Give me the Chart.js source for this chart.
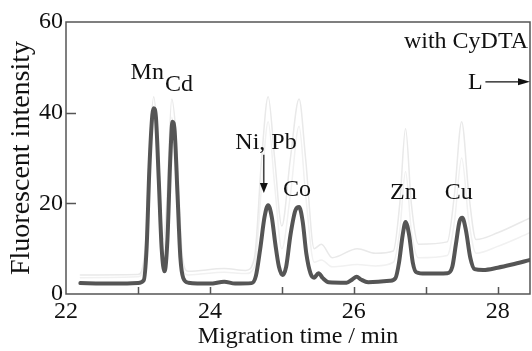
<!DOCTYPE html>
<html>
<head>
<meta charset="utf-8">
<script src="https://cdn.jsdelivr.net/npm/chart.js@4.4.1/dist/chart.umd.min.js"></script>
<style>
  html, body { margin: 0; padding: 0; background: #fff; }
  #wrap { width: 532px; height: 351px; }
</style>
</head>
<body>
<div id="wrap"><canvas id="chart" width="532" height="351"></canvas></div>
<script>
// electropherogram with CyDTA: main trace
const mainTime = [22.2, 22.5, 22.8, 23.0, 23.08, 23.12, 23.16, 23.2, 23.22, 23.25, 23.29, 23.33, 23.37,
  23.41, 23.45, 23.48, 23.51, 23.55, 23.59, 23.63, 23.7, 24.0, 24.2, 24.35, 24.58,
  24.64, 24.7, 24.76, 24.81, 24.86, 24.91, 24.96, 25.01, 25.06, 25.12, 25.19, 25.24,
  25.29, 25.34, 25.4, 25.45, 25.51, 25.57, 25.65, 25.9, 25.98, 26.04, 26.1, 26.2,
  26.5, 26.58, 26.63, 26.68, 26.72, 26.77, 26.82, 26.87, 27.0, 27.3, 27.37, 27.42,
  27.47, 27.51, 27.56, 27.62, 27.68, 27.8, 28.0, 28.2, 28.45];
const mainSignal = [2.4, 2.3, 2.3, 2.4, 3, 10, 28, 39.5, 41, 39, 25, 10, 5,
  12, 30, 38, 36, 22, 8, 3.5, 2.5, 2.3, 2.7, 2.3, 2.4,
  4, 10, 17, 19.6, 17, 11, 6, 4.2, 6, 13, 18.5, 19.2,
  16, 9, 4.5, 3.6, 4.6, 3.5, 2.6, 2.5, 3.2, 3.8, 3.2, 2.6,
  2.9, 3.5, 7, 13, 15.9, 13, 7, 4.8, 4.5, 4.6, 6, 11,
  16, 16.8, 14, 8, 5.5, 5.3, 5.8, 6.5, 7.5];

// faint background traces
const faintTime = [22.2, 23.0, 23.1, 23.17, 23.22, 23.27, 23.35, 23.4, 23.47, 23.53, 23.62, 23.7,
  24.2, 24.5, 24.62, 24.72, 24.81, 24.9, 25.0, 25.12, 25.24, 25.33, 25.45, 25.55, 25.7,
  26.05, 26.3, 26.55, 26.64, 26.72, 26.8, 26.9, 27.3, 27.4, 27.5, 27.6, 27.7, 28.0, 28.45];
const faintSignalA = [4.2, 4.3, 10, 35, 43.5, 35, 12, 20, 43, 35, 8, 5,
  5.6, 5.2, 8, 30, 43.5, 30, 15, 30, 43, 30, 10, 11, 8,
  10, 9, 9.5, 20, 36.5, 20, 11, 11.5, 22, 38, 22, 12, 13.5, 16.8];
const faintSignalB = [3.6, 3.8, 8, 30, 40, 30, 10, 16, 39, 30, 6, 4.2,
  4.8, 4.5, 6, 24, 38, 24, 10, 22, 37, 22, 7, 7.5, 6,
  6.5, 6.2, 7, 14, 27, 14, 8, 8.5, 16, 30, 16, 9, 10.5, 13.5];

const xTicks = [22, 24, 26, 28];
const xMinorTicks = [23, 24, 25, 26, 27, 28];
const yTicks = [0, 20, 40, 60];

const peakLabels = [
  { text: 'Mn', x: 23.13, y: 48.8 },
  { text: 'Cd', x: 23.57, y: 46.1 },
  { text: 'Ni, Pb', x: 24.78, y: 33.3 },
  { text: 'Co', x: 25.21, y: 23 },
  { text: 'Zn', x: 26.69, y: 22.3 },
  { text: 'Cu', x: 27.46, y: 22.3 }
];

const serif = "'Liberation Serif', serif";
const ink = '#111';

const toPoints = (xs, ys) => xs.map((x, i) => ({ x, y: ys[i] }));

const decor = {
  id: 'decor',
  afterDraw(chart) {
    const { ctx, chartArea: a, scales: { x, y } } = chart;
    ctx.save();
    // frame
    ctx.strokeStyle = '#555';
    ctx.lineWidth = 1.5;
    ctx.strokeRect(a.left, a.top, a.right - a.left, a.bottom - a.top);
    // inward ticks
    ctx.beginPath();
    xMinorTicks.forEach(v => {
      const px = Math.round(x.getPixelForValue(v)) + 0.5;
      ctx.moveTo(px, a.bottom);
      ctx.lineTo(px, a.bottom - 7);
    });
    [20, 40].forEach(v => {
      const py = Math.round(y.getPixelForValue(v)) + 0.5;
      ctx.moveTo(a.left, py);
      ctx.lineTo(a.left + 10, py);
    });
    ctx.stroke();

    // peak labels
    ctx.fillStyle = ink;
    ctx.font = '24px ' + serif;
    ctx.textAlign = 'center';
    ctx.textBaseline = 'middle';
    peakLabels.forEach(l => {
      ctx.fillText(l.text, x.getPixelForValue(l.x), y.getPixelForValue(l.y));
    });
    ctx.textAlign = 'right';
    ctx.fillText('with CyDTA', a.right - 2, y.getPixelForValue(55.6));
    ctx.textAlign = 'center';
    ctx.fillText('L', x.getPixelForValue(27.69), y.getPixelForValue(46.5));

    // arrows
    ctx.strokeStyle = ink;
    ctx.lineWidth = 1.2;
    const ax = x.getPixelForValue(24.75);
    const ay0 = y.getPixelForValue(30.7), ay1 = y.getPixelForValue(22.3);
    ctx.beginPath();
    ctx.moveTo(ax, ay0);
    ctx.lineTo(ax, ay1 - 8);
    ctx.stroke();
    ctx.beginPath();
    ctx.moveTo(ax - 4, ay1 - 10);
    ctx.lineTo(ax + 4, ay1 - 10);
    ctx.lineTo(ax, ay1);
    ctx.closePath();
    ctx.fill();

    const ly = y.getPixelForValue(46.8);
    const lx0 = x.getPixelForValue(27.83), lx1 = a.right;
    ctx.beginPath();
    ctx.moveTo(lx0, ly);
    ctx.lineTo(lx1 - 10, ly);
    ctx.stroke();
    ctx.beginPath();
    ctx.moveTo(lx1 - 12, ly - 3.5);
    ctx.lineTo(lx1 - 12, ly + 3.5);
    ctx.lineTo(lx1, ly);
    ctx.closePath();
    ctx.fill();
    ctx.restore();
  }
};

new Chart(document.getElementById('chart'), {
  type: 'line',
  data: {
    datasets: [
      { data: toPoints(mainTime, mainSignal), borderColor: '#555', borderWidth: 4 },
      { data: toPoints(faintTime, faintSignalA), borderColor: '#e9e9e9', borderWidth: 1.5 },
      { data: toPoints(faintTime, faintSignalB), borderColor: '#f1f1f1', borderWidth: 1.5 }
    ]
  },
  options: {
    responsive: false,
    animation: false,
    events: [],
    parsing: false,
    elements: {
      point: { radius: 0 },
      line: { cubicInterpolationMode: 'monotone', borderCapStyle: 'round', borderJoinStyle: 'round' }
    },
    layout: { padding: { top: 22, right: 2, left: 0, bottom: 0 } },
    plugins: { legend: { display: false }, tooltip: { enabled: false } },
    scales: {
      x: {
        type: 'linear',
        min: 22,
        max: 28.45,
        afterFit: s => { s.height = 57; },
        afterBuildTicks: s => { s.ticks = xTicks.map(v => ({ value: v })); },
        grid: { display: false, drawTicks: false },
        border: { display: false },
        ticks: { color: ink, font: { family: serif, size: 24 }, padding: 3, maxRotation: 0 },
        title: { display: true, text: 'Migration time / min', color: ink,
          font: { family: serif, size: 24 }, padding: { top: 0, bottom: 0 } }
      },
      y: {
        min: 0,
        max: 60,
        afterFit: s => { s.width = 66; },
        afterBuildTicks: s => { s.ticks = yTicks.map(v => ({ value: v })); },
        grid: { display: false, drawTicks: false },
        border: { display: false },
        ticks: { color: ink, font: { family: serif, size: 24 }, padding: 3 },
        title: { display: true, text: 'Fluorescent intensity', color: ink,
          font: { family: serif, size: 28 }, padding: { top: 5, bottom: 0 } }
      }
    }
  },
  plugins: [decor]
});
</script>
</body>
</html>
